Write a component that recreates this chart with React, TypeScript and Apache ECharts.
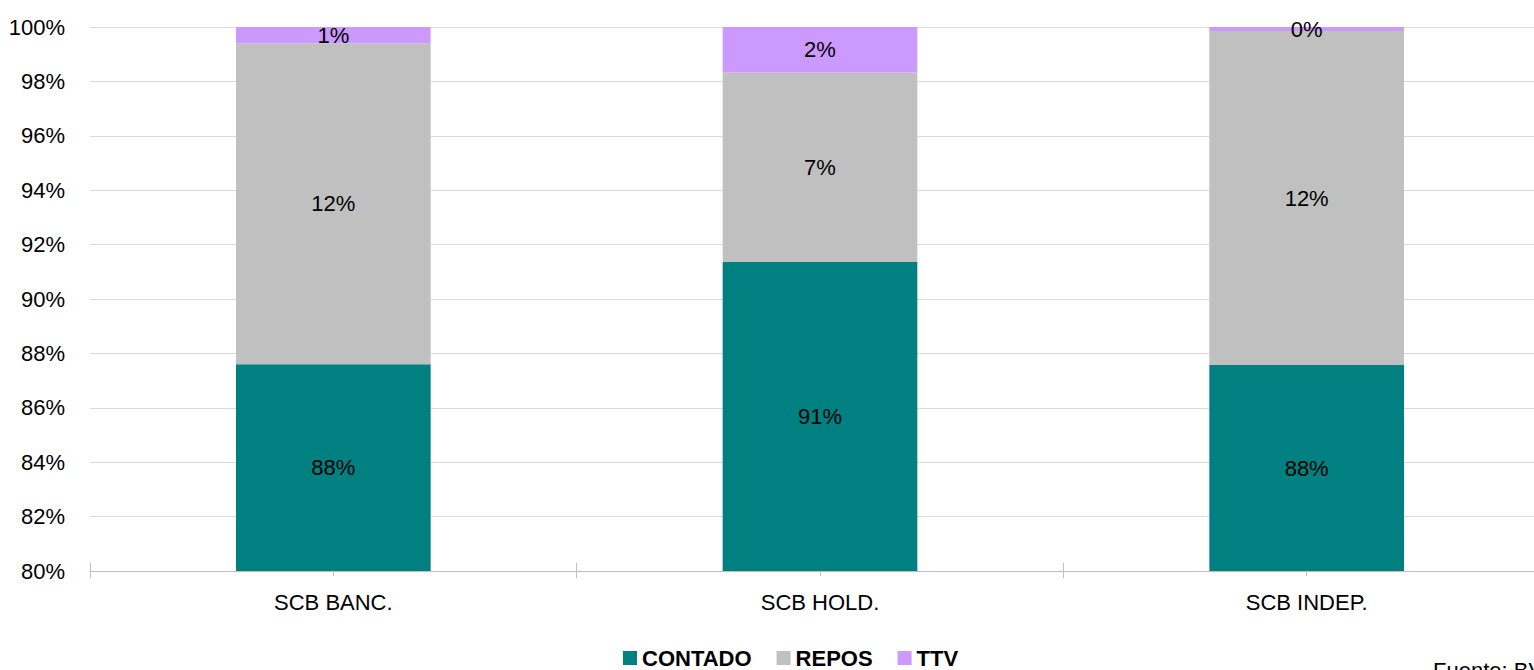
import React, { useEffect, useRef } from "react";
import * as echarts from "echarts";

const categories = ["SCB BANC.", "SCB HOLD.", "SCB INDEP."];
const contado = [87.6, 91.36, 87.57];
const repos = [11.8, 6.97, 12.28];
const ttv = [0.6, 1.67, 0.15];
const seriesNames = ["CONTADO", "REPOS", "TTV"];
const colors = ["#008080", "#C0C0C0", "#CC99FF"];
const sourceText = "Fuente: BVC";

const FONT = "'Liberation Sans', Arial, sans-serif";
const FS = 22;

export default function App() {
  const ref = useRef<HTMLDivElement>(null);
  useEffect(() => {
    if (!ref.current) return;
    const chart = echarts.init(ref.current, null, { renderer: "svg" });
    const values = [contado, repos, ttv];
    const tickAxis = (inside: boolean, align: boolean, len: number) => ({
      type: "category",
      data: categories,
      position: "bottom",
      axisLine: { show: false },
      axisLabel: { show: false },
      axisTick: { show: true, inside, alignWithLabel: align, length: len, lineStyle: { color: "#BFBFBF" } },
      splitLine: { show: false },
    });
    chart.setOption({
      animation: false,
      textStyle: { fontFamily: FONT },
      grid: { left: 90, right: 10, top: 27, bottom: 119, containLabel: false, outerBoundsMode: "none" },
      legend: {
        data: seriesNames,
        left: 623,
        top: 647,
        padding: 0,
        icon: "rect",
        itemWidth: 14,
        itemHeight: 14,
        itemGap: 25,
        textStyle: { fontFamily: FONT, fontSize: FS, fontWeight: "bold", color: "#000" },
      },
      xAxis: [
        {
          type: "category",
          data: categories,
          axisLine: { show: true, lineStyle: { color: "#BFBFBF", width: 1 } },
          axisTick: { show: true, length: 7, lineStyle: { color: "#BFBFBF" } },
          axisLabel: { fontFamily: FONT, fontSize: FS, color: "#000", margin: 20 },
        },
        tickAxis(true, false, 8),
        tickAxis(true, true, 7),
        tickAxis(false, true, 5),
      ],
      yAxis: {
        type: "value",
        min: 80,
        max: 100,
        interval: 2,
        axisLine: { show: false },
        axisTick: { show: false },
        axisLabel: { fontFamily: FONT, fontSize: FS, color: "#000", margin: 25, formatter: (v: number) => `${v}%` },
        splitLine: { lineStyle: { color: "#D9D9D9", width: 1 } },
      },
      series: seriesNames.map((name, i) => ({
        name,
        type: "bar",
        stack: "total",
        barWidth: "40%",
        data: values[i],
        itemStyle: { color: colors[i] },
        clip: true,
        label: {
          show: true,
          position: "inside",
          fontFamily: FONT,
          fontSize: FS,
          color: "#000",
          formatter: (p: any) => `${Math.round(p.value)}%`,
        },
      })),
      graphic: [
        {
          type: "text",
          left: 1433,
          top: 659,
          style: { text: sourceText, fontFamily: FONT, fontSize: FS, fill: "#000" },
        },
      ],
    });
    return () => chart.dispose();
  }, []);
  return (
    <div style={{ position: "fixed", left: 0, top: 0, width: 1534, height: 670, overflow: "hidden", background: "#fff" }}>
      <div ref={ref} style={{ width: 1560, height: 690 }} />
    </div>
  );
}
